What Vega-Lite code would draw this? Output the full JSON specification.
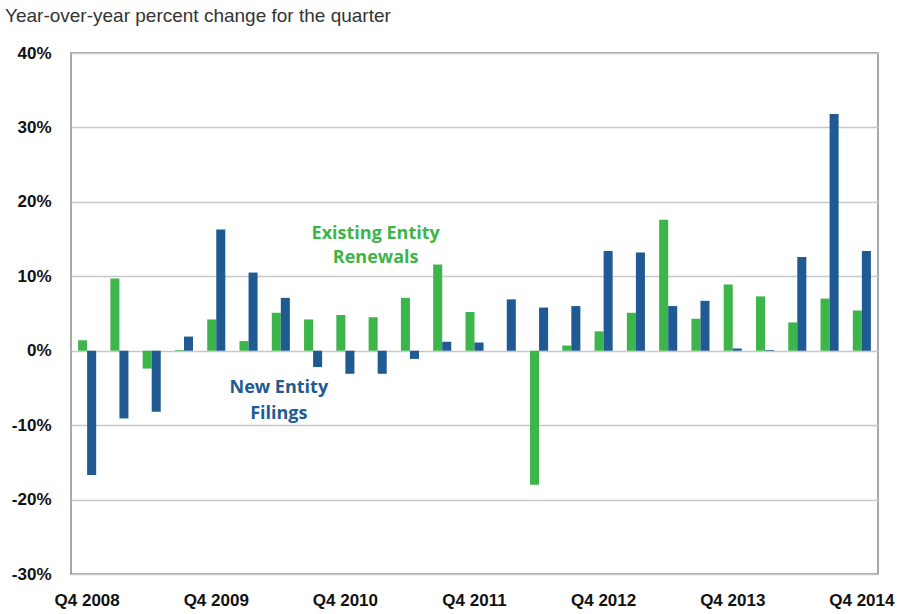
{
  "$schema": "https://vega.github.io/schema/vega-lite/v6.json",
  "width": 807,
  "height": 521,
  "autosize": {"type": "none"},
  "padding": {"left": 71, "top": 53, "right": 20, "bottom": 40},
  "background": "white",
  "title": {
    "text": "Year-over-year percent change for the quarter",
    "anchor": "start",
    "frame": "group",
    "dx": -66,
    "offset": 18,
    "font": "Liberation Sans",
    "fontSize": 19,
    "fontWeight": "normal",
    "color": "#333333"
  },
  "config": {
    "view": {"stroke": "#8c8c8c", "strokeWidth": 1.5},
    "axis": {"labelFont": "Liberation Sans", "labelFontWeight": "bold", "labelColor": "#111111"}
  },
  "datasets": {
    "bars": [
      {"q": "Q4 2008", "s": "Existing Entity Renewals", "v": 1.4}, {"q": "Q4 2008", "s": "New Entity Filings", "v": -16.7},
      {"q": "Q1 2009", "s": "Existing Entity Renewals", "v": 9.7}, {"q": "Q1 2009", "s": "New Entity Filings", "v": -9.1},
      {"q": "Q2 2009", "s": "Existing Entity Renewals", "v": -2.4}, {"q": "Q2 2009", "s": "New Entity Filings", "v": -8.2},
      {"q": "Q3 2009", "s": "Existing Entity Renewals", "v": 0.1}, {"q": "Q3 2009", "s": "New Entity Filings", "v": 1.9},
      {"q": "Q4 2009", "s": "Existing Entity Renewals", "v": 4.2}, {"q": "Q4 2009", "s": "New Entity Filings", "v": 16.3},
      {"q": "Q1 2010", "s": "Existing Entity Renewals", "v": 1.3}, {"q": "Q1 2010", "s": "New Entity Filings", "v": 10.5},
      {"q": "Q2 2010", "s": "Existing Entity Renewals", "v": 5.1}, {"q": "Q2 2010", "s": "New Entity Filings", "v": 7.1},
      {"q": "Q3 2010", "s": "Existing Entity Renewals", "v": 4.2}, {"q": "Q3 2010", "s": "New Entity Filings", "v": -2.2},
      {"q": "Q4 2010", "s": "Existing Entity Renewals", "v": 4.8}, {"q": "Q4 2010", "s": "New Entity Filings", "v": -3.1},
      {"q": "Q1 2011", "s": "Existing Entity Renewals", "v": 4.5}, {"q": "Q1 2011", "s": "New Entity Filings", "v": -3.1},
      {"q": "Q2 2011", "s": "Existing Entity Renewals", "v": 7.1}, {"q": "Q2 2011", "s": "New Entity Filings", "v": -1.1},
      {"q": "Q3 2011", "s": "Existing Entity Renewals", "v": 11.6}, {"q": "Q3 2011", "s": "New Entity Filings", "v": 1.2},
      {"q": "Q4 2011", "s": "Existing Entity Renewals", "v": 5.2}, {"q": "Q4 2011", "s": "New Entity Filings", "v": 1.1},
      {"q": "Q1 2012", "s": "Existing Entity Renewals", "v": 0}, {"q": "Q1 2012", "s": "New Entity Filings", "v": 6.9},
      {"q": "Q2 2012", "s": "Existing Entity Renewals", "v": -18.0}, {"q": "Q2 2012", "s": "New Entity Filings", "v": 5.8},
      {"q": "Q3 2012", "s": "Existing Entity Renewals", "v": 0.7}, {"q": "Q3 2012", "s": "New Entity Filings", "v": 6.0},
      {"q": "Q4 2012", "s": "Existing Entity Renewals", "v": 2.6}, {"q": "Q4 2012", "s": "New Entity Filings", "v": 13.4},
      {"q": "Q1 2013", "s": "Existing Entity Renewals", "v": 5.1}, {"q": "Q1 2013", "s": "New Entity Filings", "v": 13.2},
      {"q": "Q2 2013", "s": "Existing Entity Renewals", "v": 17.6}, {"q": "Q2 2013", "s": "New Entity Filings", "v": 6.0},
      {"q": "Q3 2013", "s": "Existing Entity Renewals", "v": 4.3}, {"q": "Q3 2013", "s": "New Entity Filings", "v": 6.7},
      {"q": "Q4 2013", "s": "Existing Entity Renewals", "v": 8.9}, {"q": "Q4 2013", "s": "New Entity Filings", "v": 0.3},
      {"q": "Q1 2014", "s": "Existing Entity Renewals", "v": 7.3}, {"q": "Q1 2014", "s": "New Entity Filings", "v": 0.1},
      {"q": "Q2 2014", "s": "Existing Entity Renewals", "v": 3.8}, {"q": "Q2 2014", "s": "New Entity Filings", "v": 12.6},
      {"q": "Q3 2014", "s": "Existing Entity Renewals", "v": 7.0}, {"q": "Q3 2014", "s": "New Entity Filings", "v": 31.8},
      {"q": "Q4 2014", "s": "Existing Entity Renewals", "v": 5.4}, {"q": "Q4 2014", "s": "New Entity Filings", "v": 13.4}
    ],
    "notes": [
      {"q": "Q1 2011", "v": 15.7, "t": "Existing Entity", "s": "Existing Entity Renewals"},
      {"q": "Q1 2011", "v": 12.4, "t": "Renewals", "s": "Existing Entity Renewals"},
      {"q": "Q2 2010", "v": -5.0, "t": "New Entity", "s": "New Entity Filings"},
      {"q": "Q2 2010", "v": -8.5, "t": "Filings", "s": "New Entity Filings"}
    ]
  },
  "layer": [
    {
      "data": {"name": "bars"},
      "mark": {"type": "bar"},
      "encoding": {
        "x": {
          "field": "q", "type": "nominal", "sort": null,
          "scale": {"paddingInner": 0.44, "paddingOuter": 0.22},
          "axis": {
            "title": null, "labelAngle": 0, "ticks": false, "domain": false,
            "labelFontSize": 17, "labelPadding": 18,
            "labelExpr": "indexof(datum.label, 'Q4') === 0 ? datum.label : ''"
          }
        },
        "xOffset": {"field": "s", "type": "nominal", "scale": {"domain": ["Existing Entity Renewals", "New Entity Filings"], "paddingInner": 0, "paddingOuter": 0}},
        "y": {
          "field": "v", "type": "quantitative",
          "scale": {"domain": [-30, 40], "nice": false},
          "axis": {
            "title": null, "values": [-30, -20, -10, 0, 10, 20, 30, 40],
            "labelExpr": "datum.value + '%'",
            "ticks": false, "domain": false, "labelFontSize": 17, "labelPadding": 20,
            "gridColor": "#c8c8c8", "gridWidth": 1.5
          }
        },
        "color": {
          "field": "s", "type": "nominal",
          "scale": {"domain": ["Existing Entity Renewals", "New Entity Filings"], "range": ["#3cb54a", "#1f5a92"]},
          "legend": null
        }
      }
    },
    {
      "data": {"name": "notes"},
      "mark": {"type": "text", "font": "Open Sans", "fontWeight": "bold", "fontSize": 18, "align": "center", "baseline": "middle", "dx": -2},
      "encoding": {
        "x": {"field": "q", "type": "nominal", "sort": null},
        "y": {"field": "v", "type": "quantitative"},
        "text": {"field": "t"},
        "color": {"field": "s", "type": "nominal", "legend": null}
      }
    }
  ]
}
